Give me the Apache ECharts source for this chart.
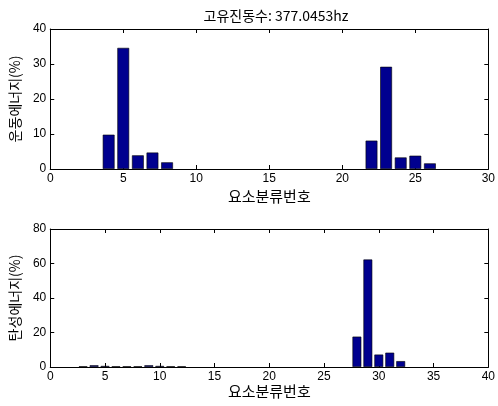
<!DOCTYPE html>
<html>
<head>
<meta charset="utf-8">
<script src="https://cdn.jsdelivr.net/npm/echarts@6/dist/echarts.min.js"></script>
<style>
  html, body { margin: 0; padding: 0; background: #fff; }
  #chart { width: 498px; height: 406px; }
</style>
</head>
<body>
<div id="chart"></div>
<script>
// Kinetic energy share per element group (top panel)
const kineticElements = [4, 5, 6, 7, 8, 22, 23, 24, 25, 26];
const kineticValues   = [9.8, 34.6, 3.9, 4.7, 1.9, 8.1, 29.2, 3.3, 3.8, 1.6];

// Strain energy share per element group (bottom panel)
const strainElements = [3, 4, 5, 6, 7, 8, 9, 10, 11, 12, 28, 29, 30, 31, 32];
const strainValues   = [0.4, 1.0, 0.6, 0.4, 0.4, 0.4, 1.0, 0.6, 0.4, 0.4, 17.6, 62.3, 7.2, 8.3, 3.4];

const titleText = '고유진동수: 377.0453hz';
const xName = '요소분류번호';
const yNameTop = '운동에너지(%)';
const yNameBottom = '탄성에너지(%)';

const topTicks = { min: 0, max: 30, interval: 5 };
const topY = { min: 0, max: 40, interval: 10 };
const botTicks = { min: 0, max: 40, interval: 5 };
const botY = { min: 0, max: 80, interval: 20 };

const gridLeft = 50, gridWidth = 442;
const grids = [
  { left: gridLeft, top: 29, width: gridWidth, height: 140 },
  { left: gridLeft, top: 229, width: gridWidth, height: 138 }
];

const latin = 'Liberation Sans, Arial, sans-serif';
const kr = '"Noto Sans CJK KR", sans-serif';

function pairs(xs, ys) { return xs.map((x, i) => [x, ys[i]]); }

function xAxes(gridIndex, t, nameGap) {
  const base = {
    type: 'value', gridIndex, min: t.min, max: t.max, interval: t.interval,
    splitLine: { show: false },
    axisLine: { show: true, onZero: false, lineStyle: { color: '#000', width: 1 } },
    axisTick: { show: true, inside: true, length: 4, lineStyle: { color: '#000' } }
  };
  return [
    Object.assign({}, base, {
      position: 'bottom',
      name: xName, nameLocation: 'middle', nameGap,
      nameTextStyle: { fontFamily: kr, fontSize: 15, color: '#000' },
      axisLabel: { show: true, color: '#000', fontFamily: latin, fontSize: 12, margin: 4 }
    }),
    Object.assign({}, base, { position: 'top', axisLabel: { show: false } })
  ];
}

function yAxes(gridIndex, t, name) {
  const base = {
    type: 'value', gridIndex, min: t.min, max: t.max, interval: t.interval,
    splitLine: { show: false },
    axisLine: { show: true, onZero: false, lineStyle: { color: '#000', width: 1 } },
    axisTick: { show: true, inside: true, length: 4, lineStyle: { color: '#000' } }
  };
  return [
    Object.assign({}, base, {
      position: 'left',
      name, nameLocation: 'middle', nameGap: 27,
      nameTextStyle: { fontFamily: kr, fontSize: 14, color: '#000' },
      axisLabel: { show: true, color: '#000', fontFamily: latin, fontSize: 12, margin: 4 }
    }),
    Object.assign({}, base, { position: 'right', axisLabel: { show: false } })
  ];
}

const barStyle = { color: '#00008f', borderColor: '#000', borderWidth: 0.6 };

const option = {
  backgroundColor: '#fff',
  animation: false,
  title: {
    text: titleText, left: gridLeft + gridWidth / 2, top: 4, textAlign: 'center',
    textStyle: { fontFamily: kr, fontSize: 14, fontWeight: 'normal', color: '#000' }
  },
  grid: grids,
  xAxis: [...xAxes(0, topTicks, 20), ...xAxes(1, botTicks, 16)],
  yAxis: [...yAxes(0, topY, yNameTop), ...yAxes(1, botY, yNameBottom)],
  series: [
    {
      type: 'bar', xAxisIndex: 0, yAxisIndex: 0,
      barWidth: 0.8 * gridWidth / (topTicks.max - topTicks.min),
      data: pairs(kineticElements, kineticValues),
      itemStyle: barStyle
    },
    {
      type: 'bar', xAxisIndex: 2, yAxisIndex: 2,
      barWidth: 0.8 * gridWidth / (botTicks.max - botTicks.min),
      data: pairs(strainElements, strainValues),
      itemStyle: barStyle
    }
  ]
};

const chart = echarts.init(document.getElementById('chart'), null, { renderer: 'canvas' });
chart.setOption(option);
</script>
</body>
</html>
